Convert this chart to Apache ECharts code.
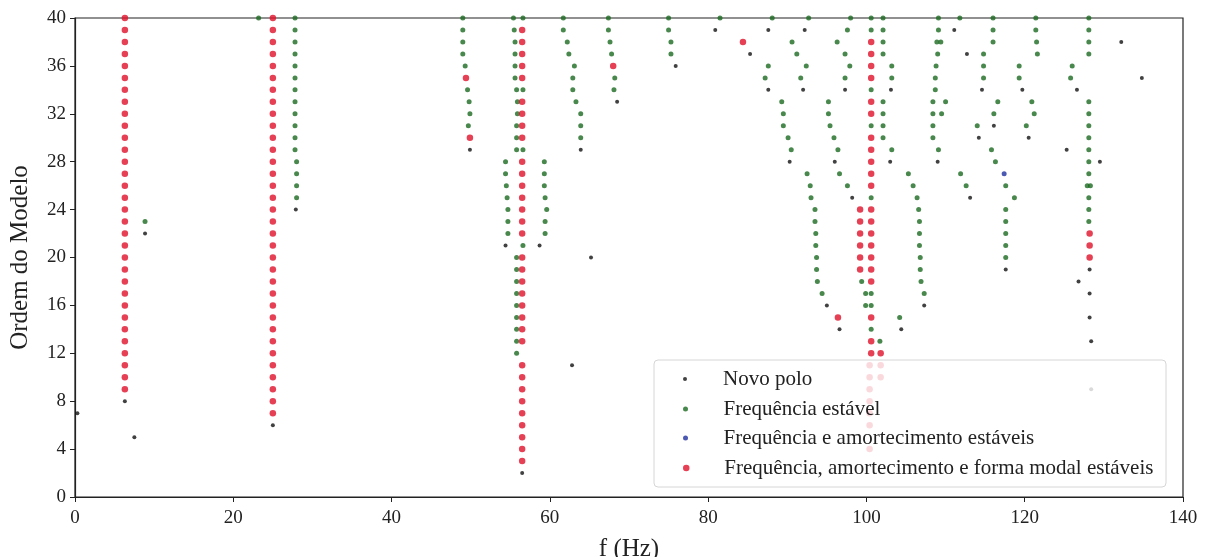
<!DOCTYPE html>
<html>
<head>
<meta charset="utf-8">
<script src="https://cdn.jsdelivr.net/npm/echarts@6/dist/echarts.min.js"></script>
<style>
  html, body { margin: 0; padding: 0; background: #fff; }
  #chart { width: 1210px; height: 557px; }
</style>
</head>
<body>
<div id="chart"></div>
<script>
// Stabilization diagram: each entry is [frequency (Hz), [model orders where the pole appears]]
const seriesNames = [
  'Novo polo',
  'Frequência estável',
  'Frequência e amortecimento estáveis',
  'Frequência, amortecimento e forma modal estáveis'
];

const novoPolo = [
  [0.3, [7]], [6.3, [8]], [7.5, [5]], [8.85, [22]], [25.0, [6]], [27.9, [24]],
  [49.9, [29]], [54.4, [21]], [56.5, [2]], [58.7, [21]], [62.8, [11]], [63.9, [29]],
  [65.2, [20]], [68.5, [33]], [75.9, [36]], [80.9, [39]], [85.3, [37]],
  [87.6, [34, 39]], [92.2, [39]], [92.0, [34]], [90.3, [28]], [95.0, [16]],
  [96.0, [28]], [98.2, [25]], [97.3, [34]], [96.6, [14]], [103.1, [34]],
  [103.0, [28]], [104.4, [14]], [107.3, [16]], [109.0, [28]], [111.1, [39]],
  [112.7, [37]], [114.6, [34]], [114.2, [30]], [116.1, [31]], [113.1, [25]],
  [117.6, [19]], [119.7, [34]], [120.5, [30]], [125.3, [29]], [126.6, [34]],
  [129.5, [28]], [132.2, [38]], [134.8, [35]], [128.2, [15, 17, 19]],
  [126.8, [18]], [128.4, [9, 13]]
];

const freqEstavel = [
  [8.85, [23]], [23.2, [40]],
  [27.8, [29, 30, 31, 32, 33, 34, 35, 36, 37, 38, 39, 40]], [28.0, [25, 26, 27, 28]],
  [49.0, [37, 38, 39, 40]], [49.3, [36]], [49.6, [34]], [49.8, [33]], [49.9, [32]], [49.7, [31]],
  [55.4, [40]], [55.5, [39]], [55.6, [35, 36, 37, 38]], [55.8, [29, 30, 31, 34]], [55.9, [32, 33]],
  [55.8, [12, 13, 14, 15, 16, 17, 18, 19, 20]], [56.6, [21, 29, 34, 40]],
  [54.4, [27, 28]], [54.5, [26]], [54.6, [25]], [54.7, [22, 23, 24]],
  [59.3, [26, 27, 28]], [59.4, [22, 23, 25]], [59.6, [24]],
  [61.7, [39, 40]], [62.2, [38]], [62.4, [37]], [63.1, [36]], [62.9, [34, 35]], [63.3, [33]],
  [63.9, [30, 31, 32]],
  [67.4, [39, 40]], [67.6, [38]], [67.8, [37]], [68.2, [35]], [68.1, [34]],
  [75.0, [39, 40]], [75.3, [37, 38]],
  [81.5, [40]], [88.1, [40]], [87.6, [36]], [87.2, [35]], [92.7, [40]],
  [90.6, [38]], [91.2, [37]], [92.4, [36]], [91.7, [35]],
  [89.3, [33]], [89.5, [31, 32]], [90.1, [30]], [90.5, [29]],
  [92.5, [27]], [92.9, [26]], [93.0, [25]], [93.5, [23, 24]], [93.6, [21, 22]], [93.7, [19, 20]],
  [93.8, [18]], [94.4, [17]],
  [95.2, [32, 33]], [95.4, [31]], [95.9, [30]], [96.4, [29]],
  [96.6, [27]], [97.6, [26]],
  [98.0, [40]], [97.6, [39]], [96.3, [38]], [97.3, [35, 37]], [97.9, [36]],
  [99.4, [18]], [99.9, [16, 17]],
  [100.6, [14, 16, 17, 25, 31, 34, 39, 40]],
  [101.7, [13]],
  [102.1, [30, 31, 32, 33, 37, 38, 39, 40]], [103.2, [29, 35, 36]],
  [104.2, [15]],
  [105.3, [27]], [105.9, [26]], [106.4, [25]], [106.6, [24]], [106.7, [21, 22, 23]],
  [106.8, [19, 20]], [106.9, [18]], [107.3, [17]],
  [109.1, [29, 39, 40]], [108.9, [38]], [109.4, [38]], [109.0, [37]], [108.8, [36]],
  [108.7, [34, 35]], [108.4, [30, 31, 32, 33]], [110.0, [33]], [109.5, [32]],
  [111.8, [40]],
  [114.8, [35, 36, 37]], [114.0, [31]],
  [116.0, [38, 39, 40]], [116.6, [33]], [116.1, [32]],
  [115.8, [29]], [116.3, [28]],
  [111.9, [27]], [112.6, [26]],
  [117.6, [20, 21, 22, 23, 24, 26]], [118.7, [25]],
  [119.3, [35, 36]],
  [121.4, [39, 40]], [121.5, [38]], [121.6, [37]],
  [120.9, [33]], [121.2, [32]], [120.2, [31]],
  [126.0, [36]], [125.8, [35]],
  [128.1, [23, 24, 25, 27, 28, 29, 30, 31, 32, 33, 37, 38, 39, 40]], [127.9, [26]], [128.3, [26]]
];

const freqAmort = [
  [117.4, [27]]
];

const freqAmortModo = [
  [6.3, [9, 10, 11, 12, 13, 14, 15, 16, 17, 18, 19, 20, 21, 22, 23, 24,
         25, 26, 27, 28, 29, 30, 31, 32, 33, 34, 35, 36, 37, 38, 39, 40]],
  [25.0, [7, 8, 9, 10, 11, 12, 13, 14, 15, 16, 17, 18, 19, 20, 21, 22, 23,
          24, 25, 26, 27, 28, 29, 30, 31, 32, 33, 34, 35, 36, 37, 38, 39, 40]],
  [49.4, [35]], [49.9, [30]],
  [56.5, [3, 4, 5, 6, 7, 8, 9, 10, 11, 13, 14, 15, 16, 17, 18, 19, 20,
          22, 23, 24, 25, 26, 27, 28, 30, 31, 32, 33, 35, 36, 37, 38, 39]],
  [68.0, [36]],
  [84.4, [38]],
  [96.4, [15]],
  [99.2, [19, 20, 21, 22, 23, 24]],
  [100.6, [12, 13, 15, 18, 19, 20, 21, 22, 23, 24, 26, 27, 28, 29, 30, 32, 33, 35, 36, 37, 38]],
  [100.4, [4, 6, 7, 8, 9, 10, 11]],
  [101.8, [10, 11, 12]],
  [128.2, [20, 21, 22]]
];

// Expand [freq, orders] groups into [x, y] points
function points(groups) {
  const out = [];
  groups.forEach(([f, orders]) => orders.forEach(o => out.push([f, o])));
  return out;
}

const colors = ['#111111', '#1b6a20', '#1f2f9f', '#e0102a'];
const sizes = [4, 5, 5, 6.5];
const groupsList = [novoPolo, freqEstavel, freqAmort, freqAmortModo];

const FONT = '"Liberation Serif", "Times New Roman", serif';

const legendCenters = [378, 408, 437, 467];

const chart = echarts.init(document.getElementById('chart'), null, { renderer: 'canvas' });

chart.setOption({
  animation: false,
  backgroundColor: '#ffffff',
  grid: {
    left: 75, right: 27, top: 18, bottom: 60,
    outerBoundsMode: 'none', containLabel: false,
    show: true, borderColor: '#222', borderWidth: 1.2, backgroundColor: 'transparent'
  },
  xAxis: {
    type: 'value', min: 0, max: 140, interval: 20,
    name: 'f (Hz)', nameLocation: 'middle', nameGap: 40,
    nameTextStyle: { fontFamily: FONT, fontSize: 25, color: '#222' },
    axisLine: { show: true, onZero: false, lineStyle: { color: '#222', width: 1.2 } },
    axisTick: { show: true, inside: false, length: 5, lineStyle: { color: '#222' } },
    axisLabel: { fontFamily: FONT, fontSize: 19, color: '#222', margin: 12 },
    splitLine: { show: false }
  },
  yAxis: {
    type: 'value', min: 0, max: 40, interval: 4,
    name: 'Ordem do Modelo', nameLocation: 'middle', nameGap: 42, nameRotate: 90,
    nameTextStyle: { fontFamily: FONT, fontSize: 25, color: '#222' },
    axisLine: { show: true, onZero: false, lineStyle: { color: '#222', width: 1.2 } },
    axisTick: { show: true, inside: false, length: 5, lineStyle: { color: '#222' } },
    axisLabel: { fontFamily: FONT, fontSize: 19, color: '#222', margin: 9 },
    splitLine: { show: false }
  },
  // Semi-transparent legend frame drawn over the poles
  graphic: [{
    type: 'rect', z: 3,
    shape: { x: 654, y: 360, width: 512, height: 127, r: 4 },
    style: { fill: 'rgba(255,255,255,0.8)', stroke: '#d6d6d6', lineWidth: 1 }
  }],
  legend: seriesNames.map((name, i) => ({
    data: [name],
    left: 683, top: legendCenters[i] - 10,
    orient: 'vertical', padding: 0,
    icon: 'circle', itemWidth: 66, itemHeight: sizes[i],
    selectedMode: false, z: 5,
    textStyle: { fontFamily: FONT, fontSize: 21, color: '#222', lineHeight: 22 }
  })),
  series: seriesNames.map((name, i) => ({
    name, type: 'scatter', symbol: 'circle', symbolSize: sizes[i],
    itemStyle: { color: colors[i] },
    clip: false, z: 2,
    data: points(groupsList[i])
  }))
});
</script>
</body>
</html>
